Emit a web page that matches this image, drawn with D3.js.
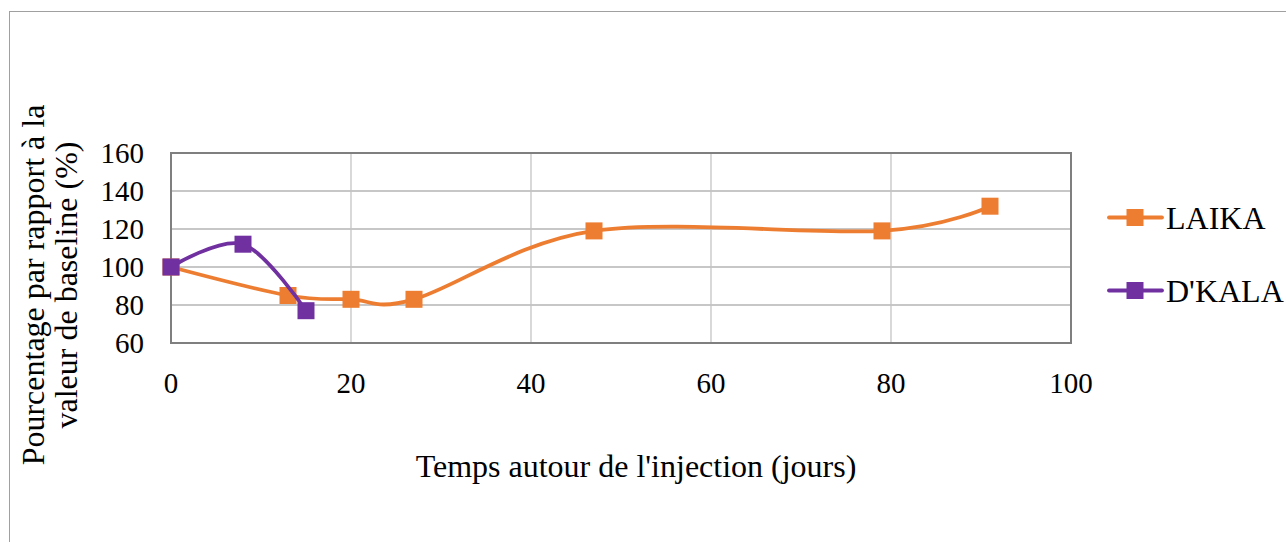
<!DOCTYPE html>
<html>
<head>
<meta charset="utf-8">
<script src="https://cdn.jsdelivr.net/npm/d3@7"></script>
<style>
  body { margin: 0; background: #fff; }
  svg text { font-family: "Liberation Serif", "DejaVu Serif", serif; fill: #000; }
</style>
</head>
<body>
<svg id="chart" width="1286" height="542"></svg>
<script>
// series data
const laikaDays = [0, 13, 20, 27, 47, 79, 91]
const laikaValues = [100, 85, 83, 83, 119, 119, 132]
const dkalaDays = [0, 8, 15]
const dkalaValues = [100, 112, 77]
const seriesNames = ["LAIKA", "D'KALA"]
const seriesColours = ["#ED7D31", "#7030A0"]
const xTicks = [0, 20, 40, 60, 80, 100]
const yTicks = [60, 80, 100, 120, 140, 160]

const tickSize = "29px"
const labelSize = "32px"
const svg = d3.select('#chart')

// outer frame of the chart object
svg.append("rect")
  .attr("x", 9.5).attr("y", 11.5)
  .attr("width", 1300).attr("height", 560)
  .attr("fill", "none").attr("stroke", "#a0a0a0").attr("stroke-width", 1)

const plotLeft = 171, plotRight = 1071, plotTop = 153, plotBottom = 343

const x = d3.scaleLinear().domain([0, 100]).range([plotLeft, plotRight])
const y = d3.scaleLinear().domain([60, 160]).range([plotBottom, plotTop])

const grid = svg.append("g")
grid.selectAll(".hg")
  .data(yTicks)
  .join("line")
  .attr("x1", plotLeft).attr("x2", plotRight)
  .attr("y1", d => y(d)).attr("y2", d => y(d))
  .attr("stroke", "#b4b4b4").attr("stroke-width", 1.3)
grid.selectAll(".vg")
  .data(xTicks)
  .join("line")
  .attr("x1", d => x(d)).attr("x2", d => x(d))
  .attr("y1", plotTop).attr("y2", plotBottom)
  .attr("stroke", "#c4c4c4").attr("stroke-width", 1.3)

svg.append("rect")
  .attr("x", plotLeft).attr("y", plotTop)
  .attr("width", plotRight - plotLeft).attr("height", plotBottom - plotTop)
  .attr("fill", "none").attr("stroke", "#7f7f7f").attr("stroke-width", 2)

// tick labels
svg.append("g").selectAll("text")
  .data(yTicks)
  .join("text")
  .attr("x", 144).attr("y", d => y(d) + 10)
  .attr("text-anchor", "end")
  .style("font-size", tickSize)
  .text(d => d)

svg.append("g").selectAll("text")
  .data(xTicks)
  .join("text")
  .attr("x", d => x(d)).attr("y", 393)
  .attr("text-anchor", "middle")
  .style("font-size", tickSize)
  .text(d => d)

// axis titles
svg.append("text")
  .attr("x", 636).attr("y", 477)
  .attr("text-anchor", "middle")
  .style("font-size", labelSize)
  .text("Temps autour de l'injection (jours)")

const yTitle = svg.append("text")
  .attr("transform", "translate(44,285) rotate(-90)")
  .attr("text-anchor", "middle")
  .style("font-size", labelSize)
yTitle.append("tspan").attr("x", 0).attr("y", 0).text("Pourcentage par rapport à la")
yTitle.append("tspan").attr("x", 0).attr("y", 33).text("valeur de baseline (%)")

// lines + markers
const series = [
  {name: seriesNames[0], colour: seriesColours[0], pts: laikaDays.map((d, i) => [d, laikaValues[i]])},
  {name: seriesNames[1], colour: seriesColours[1], pts: dkalaDays.map((d, i) => [d, dkalaValues[i]])}
]

const line = d3.line()
  .x(d => x(d[0]))
  .y(d => y(d[1]))
  .curve(d3.curveCatmullRom.alpha(0))

const ms = 17
series.forEach(s => {
  svg.append("path")
    .attr("d", line(s.pts))
    .attr("fill", "none")
    .attr("stroke", s.colour)
    .attr("stroke-width", 3.8)
    .attr("stroke-linecap", "round")
  svg.append("g").selectAll("rect")
    .data(s.pts)
    .join("rect")
    .attr("x", d => x(d[0]) - ms / 2)
    .attr("y", d => y(d[1]) - ms / 2)
    .attr("width", ms).attr("height", ms)
    .attr("fill", s.colour)
})

// legend
const legend = svg.append("g")
series.forEach((s, i) => {
  const ly = 217.5 + i * 73
  legend.append("line")
    .attr("x1", 1109).attr("x2", 1162)
    .attr("y1", ly).attr("y2", ly)
    .attr("stroke", s.colour).attr("stroke-width", 3.8)
    .attr("stroke-linecap", "round")
  legend.append("rect")
    .attr("x", 1135 - ms / 2).attr("y", ly - ms / 2)
    .attr("width", ms).attr("height", ms)
    .attr("fill", s.colour)
  legend.append("text")
    .attr("x", 1166).attr("y", ly + 11)
    .style("font-size", labelSize)
    .text(s.name)
})
</script>
</body>
</html>
